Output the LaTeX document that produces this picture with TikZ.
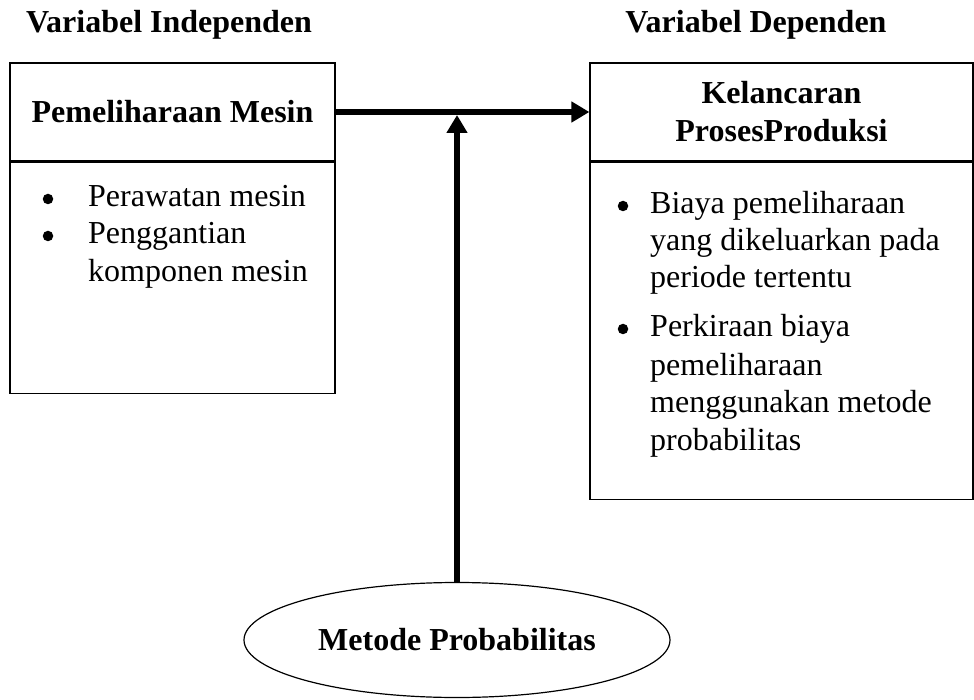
\documentclass[tikz,border=0pt]{standalone}
\usepackage{fontspec}
\setmainfont{Liberation Serif}
\usetikzlibrary{shapes.geometric,arrows.meta}

\newcommand\txtsize{\fontsize{32}{38}\selectfont}

\tikzset{
  head/.style={draw,line width=1.2pt,inner sep=0pt,align=center,font=\txtsize\bfseries},
  body/.style={draw,line width=1.2pt,inner sep=0pt},
  title/.style={anchor=base,inner sep=0pt,font=\txtsize\bfseries},
  item/.style={anchor=base west,inner sep=0pt,font=\txtsize},
  dot/.style={circle,fill,inner sep=0pt,minimum size=10.5pt},
  flow/.style={line width=6pt,-{Triangle[length=18pt,width=20pt]}}
}

\begin{document}
\begin{tikzpicture}[x=1pt,y=-1pt]
\useasboundingbox (0,0) rectangle (974,700);

\node[title] (vi) at (169,33) {Variabel Independen};
\node[title] (vd) at (756,33) {Variabel Dependen};

% independent variable
\node[head,minimum width=325pt,minimum height=98pt] (pm) at (172.5,112) {Pemeliharaan Mesin};
\node[body,minimum width=325pt,minimum height=231pt,anchor=north] (pmbox) at (pm.south) {};
\foreach \t/\y [count=\i] in {Perawatan mesin/207,Penggantian/244,komponen mesin/282}
    \node[item] (pl\i) at (88,\y) {\t};
\foreach \y [count=\i] in {199,236}
    \node[dot] (pd\i) at (48,\y) {};

% dependent variable
\node[head,minimum width=383pt,minimum height=98pt] (kp) at (781.5,112) {Kelancaran\\ProsesProduksi};
\node[body,minimum width=383pt,minimum height=337pt,anchor=north] (kpbox) at (kp.south) {};
\foreach \t/\y [count=\i] in {Biaya pemeliharaan/214,yang dikeluarkan pada/251,periode tertentu/288,
    Perkiraan biaya/337,pemeliharaan/375,menggunakan metode/412,probabilitas/450}
    \node[item] (kl\i) at (650,\y) {\t};
\foreach \y [count=\i] in {206,329}
    \node[dot] (kd\i) at (623,\y) {};

% moderating method
\node[draw,ellipse,line width=1.2pt,inner sep=0pt,minimum width=426pt,minimum height=115pt,
    font=\txtsize\bfseries] (mp) at (457,640) {Metode Probabilitas};

\draw[flow] (pm.east) -- (kp.west);
\coordinate (jn) at (457,115);
\draw[flow] (mp.north) -- (jn);
\end{tikzpicture}
\end{document}
